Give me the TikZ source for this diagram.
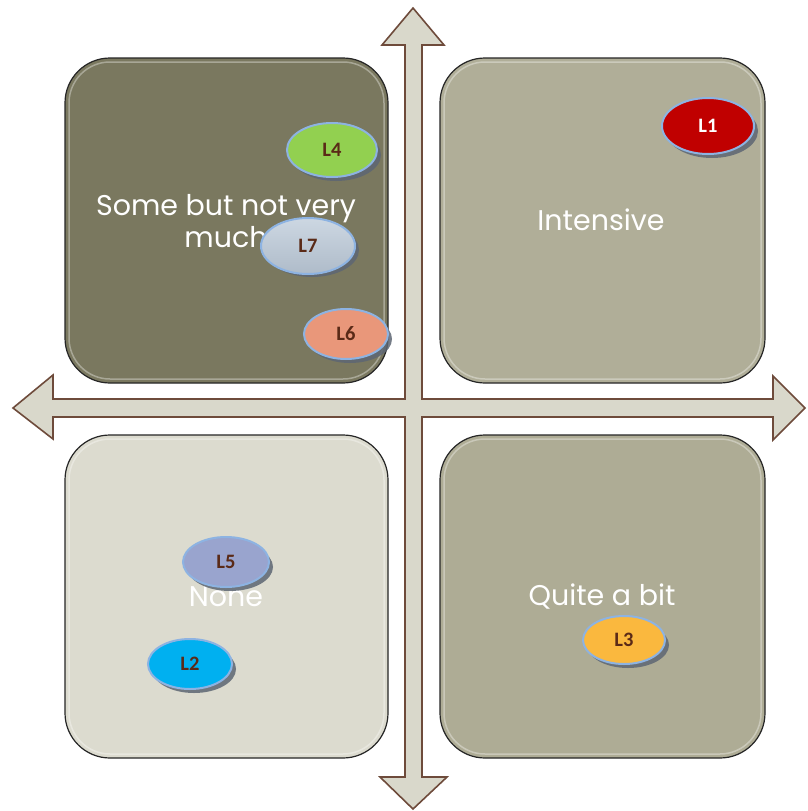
\documentclass[tikz,border=0pt]{standalone}
\usepackage{fontspec}
\setmainfont{Poppins}
\newfontfamily\lbl{Carlito}
\usetikzlibrary{shapes.geometric}
\definecolor{boxA}{HTML}{7A785F}
\definecolor{boxB}{HTML}{B0AE98}
\definecolor{boxC}{HTML}{DCDBCF}
\definecolor{boxD}{HTML}{AEAC95}
\definecolor{arrfill}{HTML}{D9D8CB}
\definecolor{arrline}{HTML}{6E4B3B}
\definecolor{ebord}{HTML}{8DB3E2}
\definecolor{etext}{HTML}{5A2A17}
\definecolor{eshad}{HTML}{5D6673}
\definecolor{cL4}{HTML}{92D050}
\definecolor{cL7}{HTML}{B7C6D6}
\definecolor{cL6}{HTML}{E9977A}
\definecolor{cL1}{HTML}{C00000}
\definecolor{cL5}{HTML}{99A4CE}
\definecolor{cL2}{HTML}{00B0F0}
\definecolor{cL3}{HTML}{FAB83E}
\tikzset{
  quad/.style={draw=black!85, line width=1.2pt, rounded corners=45pt},
  qtext/.style={text=white, font=\fontsize{28.5}{32}\selectfont, align=center},
  lab/.style={ellipse, draw=ebord, line width=2pt, minimum width=#1, inner sep=0pt,
     font=\lbl\bfseries\fontsize{20.5}{22}\selectfont, text=etext},
  shad/.style={fill=eshad, opacity=0.85},
  bigarrow/.style={fill=arrfill, draw=arrline, line width=1.6pt, line join=miter}
}
\begin{document}
\begin{tikzpicture}[x=1pt,y=-1pt]
\useasboundingbox (0,0) rectangle (807,811);
\fill[white] (0,0) rectangle (807,811);
% quadrants
\draw[quad, fill=boxA] (65,58) rectangle (388,383);
\draw[quad, fill=boxB] (440,58) rectangle (765,383);
\draw[quad, fill=boxC] (65,435) rectangle (388,758);
\draw[quad, fill=boxD] (440,435) rectangle (765,758);
% inner highlights
\draw[white, opacity=0.35, line width=1.5pt, rounded corners=41pt] (69,62) rectangle (384,379);
\draw[white, opacity=0.35, line width=1.5pt, rounded corners=41pt] (444,62) rectangle (761,379);
\draw[white, opacity=0.35, line width=1.5pt, rounded corners=41pt] (69,439) rectangle (384,754);
\draw[white, opacity=0.35, line width=1.5pt, rounded corners=41pt] (444,439) rectangle (761,754);
% quadrant texts
\node[qtext] (tA) at (226,221) {Some but not very\\much};
\node[qtext] (tB) at (601,220) {Intensive};
\node[qtext] (tC) at (226,597) {None};
\node[qtext] (tD) at (602,597) {Quite a bit};
% cross arrows
\draw[bigarrow] (405,45) -- (382,45) -- (413,8) -- (444,45) -- (422,45)
  -- (422,399) -- (773,399) -- (773,376) -- (805,408) -- (773,440) -- (773,417)
  -- (422,417) -- (422,777) -- (447,777) -- (413,809) -- (380,777) -- (405,777)
  -- (405,417) -- (53,417) -- (53,439) -- (13,408) -- (53,375) -- (53,399)
  -- (405,399) -- cycle;
% ellipse labels
\fill[shad] (336,155) ellipse (45pt and 26pt);
\node[lab=90pt, minimum height=54pt, fill=cL4] (L4) at (332,150) {L4};
\fill[shad] (312,250) ellipse (47pt and 27pt);
\node[lab=94pt, minimum height=56pt, top color=cL7!70!white, bottom color=cL7!85!gray] (L7) at (308,246) {L7};
\fill[shad] (350,339) ellipse (42pt and 24pt);
\node[lab=84pt, minimum height=50pt, fill=cL6] (L6) at (346,334) {L6};
\fill[shad] (712,131) ellipse (46pt and 27pt);
\node[lab=92pt, minimum height=56pt, fill=cL1, text=white] (L1) at (708,126) {L1};
\fill[shad] (230,567) ellipse (43pt and 24pt);
\node[lab=86pt, minimum height=50pt, fill=cL5] (L5) at (226,562) {L5};
\fill[shad] (194,669) ellipse (42pt and 24pt);
\node[lab=84pt, minimum height=50pt, fill=cL2] (L2) at (190,664) {L2};
\fill[shad] (628,645) ellipse (41pt and 23pt);
\node[lab=82pt, minimum height=48pt, fill=cL3] (L3) at (624,640) {L3};
\end{tikzpicture}
\end{document}
